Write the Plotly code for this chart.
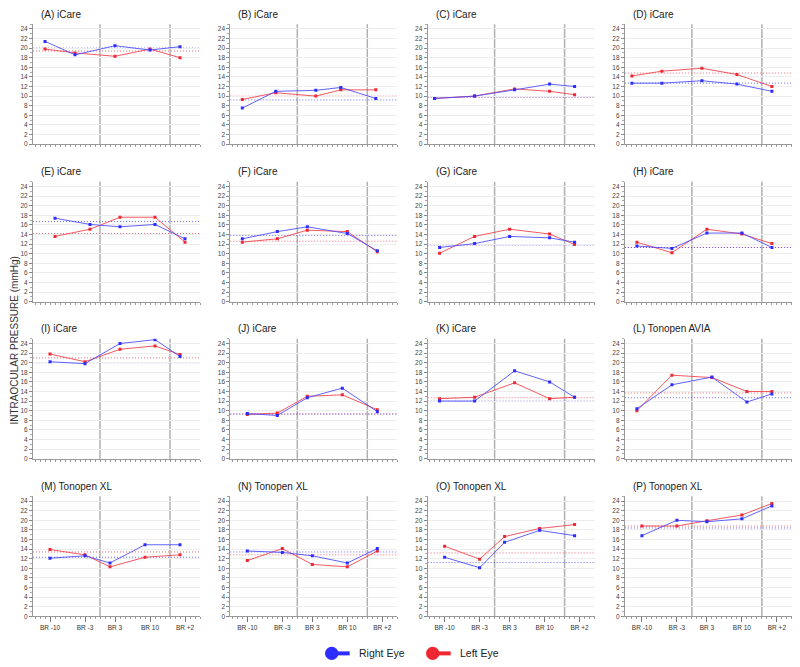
import plotly.graph_objects as go

# ---------------- data ----------------
panel_labels = ["(A) iCare", "(B) iCare", "(C) iCare", "(D) iCare",
                "(E) iCare", "(F) iCare", "(G) iCare", "(H) iCare",
                "(I) iCare", "(J) iCare", "(K) iCare", "(L) Tonopen AVIA",
                "(M) Tonopen XL", "(N) Tonopen XL", "(O) Tonopen XL", "(P) Tonopen XL"]

# measurement day of each visit (days relative to start of break)
days = [
    [-11, -5, 3, 10, 16], [-11, -4.3, 3.7, 8.7, 15.7], [-12, -4, 4, 11, 16], [-12, -6, 2, 9, 16],
    [-9, -2, 4, 11, 17], [-11, -4, 2, 10, 16], [-11, -4, 3, 11, 16], [-11, -4, 3, 10, 16],
    [-10, -3, 4, 11, 16], [-10, -4, 2, 9, 16], [-11, -4, 4, 11, 16], [-11, -4, 4, 11, 16],
    [-10, -3, 2, 9, 16], [-10, -3, 3, 10, 16], [-10, -3, 2, 9, 16], [-10, -3, 3, 10, 16],
]

right_eye = [
    [21.4, 18.6, 20.5, 19.6, 20.3], [7.5, 11.0, 11.2, 11.8, 9.5],
    [9.5, 10.0, 11.3, 12.5, 12.0], [12.7, 12.7, 13.2, 12.5, 11.0],
    [17.4, 16.1, 15.6, 16.1, 13.1], [13.1, 14.6, 15.6, 14.2, 10.6],
    [11.3, 12.1, 13.6, 13.3, 12.4], [11.6, 11.1, 14.3, 14.3, 11.3],
    [20.2, 19.8, 24.0, 24.8, 21.3], [9.4, 9.0, 12.7, 14.7, 9.8],
    [12.0, 12.0, 18.3, 16.0, 12.8], [10.4, 15.4, 17.0, 11.8, 13.5],
    [12.1, 12.6, 11.1, 14.9, 14.9], [13.6, 13.3, 12.6, 11.1, 14.1],
    [12.3, 10.1, 15.4, 17.9, 16.8], [16.8, 20.0, 19.7, 20.3, 23.0],
]

left_eye = [
    [19.8, 19.0, 18.3, 19.8, 18.0], [9.3, 10.7, 10.0, 11.3, 11.3],
    [9.5, 10.0, 11.5, 11.0, 10.3], [14.2, 15.2, 15.8, 14.5, 12.0],
    [13.6, 15.1, 17.6, 17.6, 12.4], [12.4, 13.1, 14.9, 14.6, 10.4],
    [10.1, 13.6, 15.1, 14.1, 11.9], [12.4, 10.2, 15.1, 14.1, 12.1],
    [21.8, 20.2, 22.8, 23.5, 21.7], [9.2, 9.5, 13.0, 13.3, 10.2],
    [12.5, 12.8, 15.8, 12.5, 12.8], [10.0, 17.4, 16.9, 14.0, 14.0],
    [13.9, 12.8, 10.3, 12.3, 12.8], [11.6, 14.1, 10.8, 10.3, 13.6],
    [14.6, 11.9, 16.6, 18.3, 19.1], [18.8, 18.8, 19.9, 21.1, 23.5],
]

# baseline reference levels (dotted lines)
right_mean = [20.0, 9.2, 9.8, 12.7, 16.7, 13.8, 11.8, 11.3,
              20.0, 9.3, 12.0, 12.7, 12.3, 13.4, 11.2, 18.4]
left_mean = [19.4, 10.0, 9.8, 14.8, 14.2, 12.6, 11.9, 11.3,
             21.0, 9.3, 12.7, 13.7, 13.4, 12.8, 13.2, 18.8]

tick_days = [-10, -3, 3, 10, 17]
tick_labels = ["BR -10", "BR -3", "BR 3", "BR 10", "BR +2"]
break_days = [0, 14]
y_ticks = list(range(0, 25, 2))

# ---------------- styling / layout ----------------
W, H = 800, 667
OFF_X, OFF_Y = 8, 4
BLUE = "rgb(45,45,255)"
RED = "rgb(238,40,50)"
BLUE_LINE = "rgba(70,70,255,0.85)"
RED_LINE = "rgba(240,60,70,0.85)"
FONT = "Arial, Liberation Sans, sans-serif"


def px(x):
    return (x - OFF_X) / W


def py(y):
    return (H - (y - OFF_Y)) / H


col_left = [33 + 197.3 * c for c in range(4)]
plot_w = 167
row_bottom = [140.7, 299.0, 456.7, 615.0]
plot_h = 120.5
x_range = [-13.4, 20.0]

fig = go.Figure()
shapes = []
annotations = []
layout = {}

for i in range(16):
    r, c = divmod(i, 4)
    ax = "" if i == 0 else str(i + 1)
    xname, yname = "x" + ax, "y" + ax

    layout["xaxis" + ax] = dict(
        domain=[px(col_left[c]), px(col_left[c] + plot_w)], anchor=yname, range=x_range,
        tickmode="array", tickvals=tick_days,
        ticktext=tick_labels if r == 3 else [""] * 5,
        showticklabels=(r == 3),
        ticks="outside", ticklen=5, tickcolor="#777", tickwidth=1,
        minor=dict(tickmode="linear", tick0=0, dtick=1, ticks="outside",
                   ticklen=2, tickcolor="#999", showgrid=False),
        showline=True, linecolor="#999", linewidth=1,
        showgrid=False, zeroline=False,
        tickfont=dict(size=6.5, color="#333", family=FONT),
        fixedrange=True,
    )
    layout["yaxis" + ax] = dict(
        domain=[py(row_bottom[r]), py(row_bottom[r] - plot_h)], anchor=xname, range=[0, 25],
        tickmode="array", tickvals=y_ticks,
        ticks="outside", ticklen=3, tickcolor="#888",
        minor=dict(tickmode="linear", tick0=1, dtick=2, ticks="outside",
                   ticklen=2, tickcolor="#aaa", showgrid=False),
        showline=True, linecolor="#999", linewidth=1,
        showgrid=True, gridcolor="#ededed", gridwidth=1,
        zeroline=False,
        tickfont=dict(size=6.5, color="#444", family=FONT),
        fixedrange=True,
    )

    # vertical break lines
    for bd in break_days:
        shapes.append(dict(type="line", xref=xname, yref=yname + " domain",
                           x0=bd, x1=bd, y0=0, y1=1,
                           line=dict(color="#b0b0b0", width=1.5), layer="below"))
    # baseline dotted lines
    for val, col in ((left_mean[i], "rgba(240,70,80,0.8)"), (right_mean[i], "rgba(70,70,255,0.8)")):
        shapes.append(dict(type="line", xref=xname + " domain", yref=yname,
                           x0=0, x1=1, y0=val, y1=val,
                           line=dict(color=col, width=1, dash="1px,2px"), layer="below"))

    # series
    fig.add_trace(go.Scatter(x=days[i], y=left_eye[i], mode="lines+markers",
                             line=dict(color=RED_LINE, width=1),
                             marker=dict(symbol="square", size=3, color=RED),
                             xaxis=xname, yaxis=yname, showlegend=False,
                             name="Left Eye"))
    fig.add_trace(go.Scatter(x=days[i], y=right_eye[i], mode="lines+markers",
                             line=dict(color=BLUE_LINE, width=1),
                             marker=dict(symbol="square", size=3, color=BLUE),
                             xaxis=xname, yaxis=yname, showlegend=False,
                             name="Right Eye"))

    # panel title (top row kept inside the page's visible area)
    ty = max(row_bottom[r] - plot_h - 10, OFF_Y + 7)
    annotations.append(dict(text=panel_labels[i], xref="paper", yref="paper",
                            x=px(col_left[c] + 6), y=py(ty),
                            xanchor="left", yanchor="middle", showarrow=False,
                            font=dict(size=10, color="#222", family=FONT)))

# y-axis title
annotations.append(dict(text="INTRAOCULAR PRESSURE (mmHg)", xref="paper", yref="paper",
                        x=px(OFF_X + 6), y=py(338), textangle=-90, showarrow=False,
                        xanchor="center", yanchor="middle",
                        font=dict(size=10, color="#333", family=FONT)))

# custom legend
legend_items = [("Right Eye", BLUE, 331.7), ("Left Eye", RED, 432.7)]
LY = 652.3
for name, col, cx in legend_items:
    shapes.append(dict(type="line", xref="paper", yref="paper",
                       x0=px(cx), x1=px(cx + 18), y0=py(LY), y1=py(LY),
                       line=dict(color=col, width=4)))
    shapes.append(dict(type="circle", xref="paper", yref="paper",
                       x0=px(cx - 6.7), x1=px(cx + 6.7),
                       y0=py(LY + 6.7), y1=py(LY - 6.7),
                       fillcolor=col, line=dict(color=col, width=0)))
    annotations.append(dict(text=name, xref="paper", yref="paper",
                            x=px(cx + 25), y=py(LY), xanchor="left", yanchor="middle",
                            showarrow=False, font=dict(size=10.5, color="#222", family=FONT)))

fig.update_layout(
    width=W, height=H, autosize=False,
    margin=dict(l=0, r=0, t=0, b=0),
    paper_bgcolor="white", plot_bgcolor="white",
    shapes=shapes, annotations=annotations,
    showlegend=False,
    font=dict(family=FONT),
    **layout,
)

fig.write_html("out.html")
